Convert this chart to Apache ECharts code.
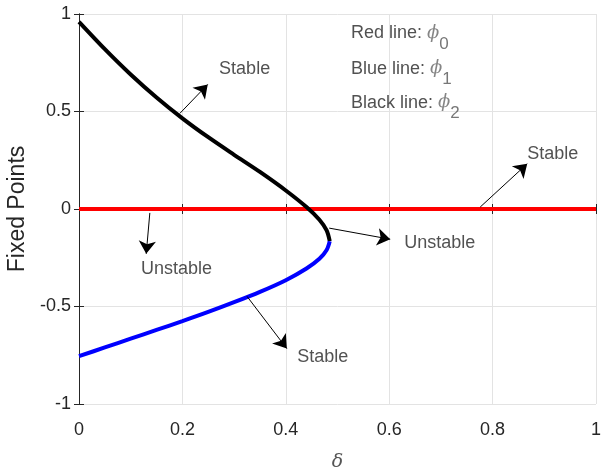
<!DOCTYPE html>
<html>
<head>
<meta charset="utf-8">
<script src="https://cdn.jsdelivr.net/npm/echarts@6/dist/echarts.min.js"></script>
<style>
  body { margin: 0; background: #fff; }
  #main { width: 601px; height: 470px; }
</style>
</head>
<body>
<div id="main"></div>
<script>
  // curve points  [delta, fixed point]
  var redDelta = [0, 1]
  var redPhi = [0, 0]

  var blackDelta = [0, 0.05, 0.1, 0.15, 0.2, 0.25, 0.3, 0.35, 0.4, 0.44, 0.465, 0.479, 0.485]
  var blackPhi = [0.96, 0.82, 0.69, 0.572, 0.465, 0.368, 0.278, 0.19, 0.095, 0.01, -0.055, -0.11, -0.165]

  var blueDelta = [0.485, 0.479, 0.465, 0.44, 0.4, 0.35, 0.3, 0.25, 0.2, 0.15, 0.1, 0.05, 0]
  var bluePhi = [-0.165, -0.21, -0.255, -0.305, -0.365, -0.425, -0.478, -0.528, -0.575, -0.62, -0.665, -0.71, -0.755]

  // arrows: [x0, y0, x1, y1]
  var arrows = [
    [0.195, 0.49, 0.249, 0.639],
    [0.137, -0.02, 0.130, -0.23],
    [0.484, -0.098, 0.602, -0.155],
    [0.325, -0.448, 0.402, -0.716],
    [0.776, 0.01, 0.867, 0.232]
  ]
  var noteText = ['Stable', 'Unstable', 'Unstable', 'Stable', 'Stable']
  var noteX = [0.271, 0.120, 0.629, 0.422, 0.867]
  var noteY = [0.72, -0.31, -0.175, -0.758, 0.284]

  var keyName = ['Red line: ', 'Blue line: ', 'Black line: ']
  var keySub = ['0', '1', '2']
  var keyX = [0.526, 0.526, 0.526]
  var keyY = [0.9, 0.72, 0.545]

  var xTicks = [0, 0.2, 0.4, 0.6, 0.8, 1]
  var yTicks = [-1, -0.5, 0, 0.5, 1]

  function pairs (xs, ys) {
    var out = []
    for (var i = 0; i < xs.length; i++) out.push([xs[i], ys[i]])
    return out
  }

  var chart = echarts.init(document.getElementById('main'))

  var font = 'Liberation Sans, Arial, sans-serif'
  var inkColor = '#262626'
  var gridColor = '#e3e3e3'

  var axisCommon = {
    type: 'value',
    axisLine: {show: true, lineStyle: {color: inkColor, width: 1}},
    axisTick: {show: true, inside: true, length: 5, lineStyle: {color: inkColor}},
    splitLine: {show: false}
  }

  chart.setOption({
    animation: false,
    grid: {left: 79, right: 5, top: 14, bottom: 66, outerBoundsMode: 'none'},
    xAxis: [
      Object.assign({}, axisCommon, {
        min: 0, max: 1, interval: 0.2,
        position: 'bottom',
        splitLine: {show: true, lineStyle: {color: gridColor}},
        axisLabel: {
          color: inkColor, fontSize: 18, fontFamily: font, margin: 17,
          formatter: function (v) { return xTicks.indexOf(+v.toFixed(1)) >= 0 ? String(+v.toFixed(1)) : '' }
        },
        name: 'δ',
        nameLocation: 'middle',
        nameGap: 49,
        nameTextStyle: {color: '#555', fontSize: 19, fontStyle: 'italic', fontFamily: 'DejaVu Serif, serif'}
      }),
      Object.assign({}, axisCommon, {
        min: 0, max: 1, interval: 0.2,
        position: 'top',
        axisLabel: {show: false}
      })
    ],
    yAxis: [
      Object.assign({}, axisCommon, {
        min: -1, max: 1, interval: 0.5,
        position: 'left',
        splitLine: {show: true, lineStyle: {color: gridColor}},
        axisLabel: {
          color: inkColor, fontSize: 18, fontFamily: font, margin: 8,
          formatter: function (v) { return yTicks.indexOf(v) >= 0 ? String(v) : '' }
        },
        name: 'Fixed Points',
        nameLocation: 'middle',
        nameGap: 41,
        nameTextStyle: {color: inkColor, fontSize: 23, fontFamily: font}
      }),
      Object.assign({}, axisCommon, {
        min: -1, max: 1, interval: 0.5,
        position: 'right',
        axisLabel: {show: false}
      })
    ],
    series: [
      {
        name: 'phi0',
        type: 'line',
        data: pairs(redDelta, redPhi),
        showSymbol: false,
        lineStyle: {color: '#ff0000', width: 4},
        z: 3
      },
      {
        name: 'phi2',
        type: 'line',
        data: pairs(blackDelta, blackPhi),
        showSymbol: false,
        smooth: 0.3,
        lineStyle: {color: '#000000', width: 4},
        z: 4
      },
      {
        name: 'phi1',
        type: 'line',
        data: pairs(blueDelta, bluePhi),
        showSymbol: false,
        smooth: 0.3,
        lineStyle: {color: '#0000ff', width: 4},
        z: 4
      },
      {
        name: 'arrows',
        type: 'lines',
        coordinateSystem: 'cartesian2d',
        symbol: ['none', 'arrow'],
        symbolSize: 13,
        lineStyle: {color: '#000', width: 1, opacity: 1},
        data: arrows.map(function (a) { return {coords: [[a[0], a[1]], [a[2], a[3]]]} }),
        z: 5
      },
      {
        name: 'notes',
        type: 'scatter',
        symbolSize: 0,
        data: noteText.map(function (t, i) { return {value: [noteX[i], noteY[i]], name: t} }),
        label: {
          show: true, position: 'right', distance: 0,
          formatter: '{b}', color: inkColor, fontSize: 18, fontFamily: font
        },
        z: 6
      },
      {
        name: 'key',
        type: 'scatter',
        symbolSize: 0,
        data: keyName.map(function (t, i) { return {value: [keyX[i], keyY[i]], name: t + '|' + keySub[i]} }),
        label: {
          show: true, position: 'right', distance: 0,
          formatter: function (p) {
            var parts = p.name.split('|')
            return '{t|' + parts[0] + '}{p|ϕ}{s|' + parts[1] + '}'
          },
          rich: {
            t: {color: inkColor, fontSize: 18, fontFamily: font, lineHeight: 22},
            p: {color: '#666', fontSize: 18, fontStyle: 'italic', fontFamily: 'DejaVu Serif, serif', lineHeight: 22},
            s: {color: '#555', fontSize: 17, fontFamily: font, padding: [22, 0, 0, 0], lineHeight: 22}
          }
        },
        z: 6
      }
    ]
  })
</script>
</body>
</html>
